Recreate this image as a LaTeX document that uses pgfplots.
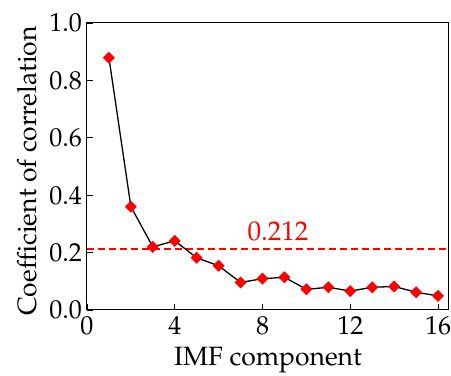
\documentclass[border=0pt]{standalone}
\usepackage[T1]{fontenc}
\usepackage{mathpazo}
\usepackage{pgfplots}
\pgfplotsset{compat=1.18}
\definecolor{lred}{RGB}{255,0,0}
\begin{document}
\begin{tikzpicture}
\begin{axis}[
  scale only axis,
  width=362pt, height=287pt,
  xmin=0, xmax=16.5, ymin=0, ymax=1.0,
  xtick={0,4,8,12,16},
  ytick={0,0.2,0.4,0.6,0.8,1.0},
  yticklabel style={/pgf/number format/fixed, /pgf/number format/fixed zerofill, /pgf/number format/precision=1, anchor=east, inner xsep=0pt, xshift=-5pt},
  xticklabel style={anchor=base, yshift=-25pt},
  tick align=inside,
  xtick pos=bottom, ytick pos=left,
  major tick length=6pt,
  tick style={black, line width=0.8pt},
  axis line style={black, line width=1pt},
  every tick label/.append style={font=\fontsize{26}{30}\selectfont},
  xlabel={IMF component},
  ylabel={Coefficient of correlation},
  xlabel style={font=\fontsize{26.5}{30}\selectfont, at={(rel axis cs:0.5,-0.195)}, anchor=base},
  ylabel style={font=\fontsize{26.5}{30}\selectfont, at={(rel axis cs:-0.166,0.484)}, anchor=center},
  clip=false,
]
\addplot[color=lred, line width=1.3pt, dash pattern=on 7pt off 4pt, mark=none, forget plot] coordinates {(0,0.212) (16.5,0.212)};
\addplot[black, line width=1.3pt, mark=square*, mark size=3.6pt,
  mark options={fill=lred, draw=lred, solid, rotate=45}] coordinates {
(1,0.879) (2,0.360) (3,0.220) (4,0.241) (5,0.182) (6,0.154) (7,0.096) (8,0.109)
(9,0.114) (10,0.072) (11,0.079) (12,0.066) (13,0.079) (14,0.082) (15,0.062) (16,0.049)
};
\node[text=lred, font=\fontsize{27}{31}\selectfont] at (axis cs:8.71,0.2735) {0.212};
\end{axis}
\pgfresetboundingbox
\path ([shift={(-87pt,-66pt)}]current axis.south west) rectangle ([shift={(2pt,23pt)}]current axis.north east);
\end{tikzpicture}
\end{document}
